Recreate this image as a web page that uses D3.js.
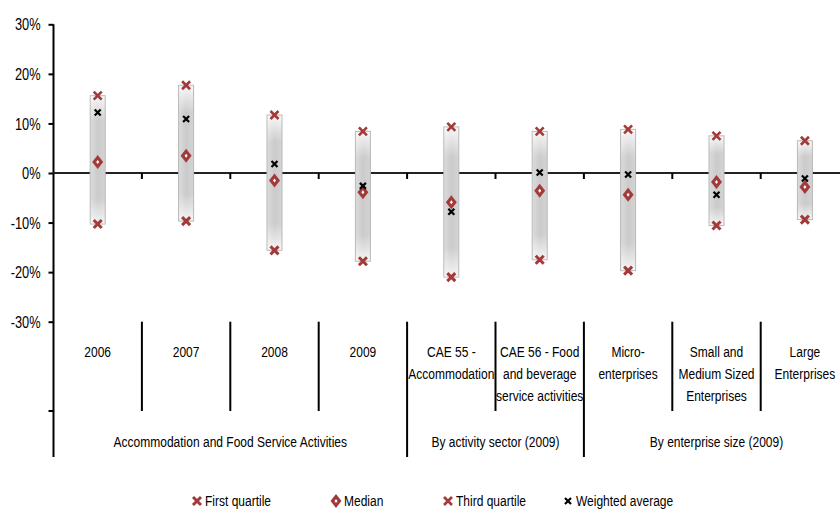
<!DOCTYPE html>
<html>
<head>
<meta charset="utf-8">
<script src="https://cdn.jsdelivr.net/npm/d3@7/dist/d3.min.js"></script>
<style>
  html, body { margin: 0; padding: 0; background: #fff; }
  svg { display: block; }
  text { font-family: "Liberation Sans", Arial, sans-serif; fill: #000; }
</style>
</head>
<body>
<svg id="chart" width="840" height="517"></svg>
<script>
// Category labels (each entry is a list of lines)
const categories = [
  ["2006"],
  ["2007"],
  ["2008"],
  ["2009"],
  ["CAE 55 -", "Accommodation"],
  ["CAE 56 - Food", "and beverage", "service activities"],
  ["Micro-", "enterprises"],
  ["Small and", "Medium Sized", "Enterprises"],
  ["Large", "Enterprises"]
];
// Group labels and how many categories each spans
const groups = ["Accommodation and Food Service Activities", "By activity sector (2009)", "By enterprise size (2009)"];
const groupSizes = [4, 2, 3];

// Values in percent
const firstQuartile   = [-10.3, -9.7, -15.6, -17.8, -21.0, -17.5, -19.7, -10.6, -9.4];
const median          = [2.2, 3.5, -1.5, -3.9, -5.9, -3.6, -4.4, -1.8, -2.8];
const thirdQuartile   = [15.6, 17.7, 11.7, 8.4, 9.3, 8.4, 8.8, 7.5, 6.5];
const weightedAverage = [12.2, 10.9, 1.8, -2.6, -7.8, 0.1, -0.3, -4.4, -1.1];

const yTicks = [-30, -20, -10, 0, 10, 20, 30];
const seriesNames = ["First quartile", "Median", "Third quartile", "Weighted average"];

const RED = "#a33a3a";
const NARROW = 0.8;   // horizontal squeeze giving a condensed face
const svg = d3.select("#chart");

// Condensed text placed at (x, y)
function narrowText(parent, x, y, str, size, anchor) {
  return parent.append("text")
    .attr("transform", `translate(${x},${y}) scale(${NARROW},1)`)
    .attr("text-anchor", anchor || "middle")
    .attr("font-size", size)
    .text(str);
}

const left = 53.5, band = 88.4;
const x = d3.scaleBand()
  .domain(d3.range(categories.length))
  .range([left, left + band * categories.length])
  .paddingInner(0).paddingOuter(0);
const y = d3.scaleLinear().domain([-30, 30]).range([321.7, 24.3]);

const axisBottom = 457;   // lower end of the category axis lines
const catLineEnd = 411;   // lower end of the inner category separators

// Gradient for the inter-quartile boxes
const defs = svg.append("defs");
const grad = defs.append("linearGradient").attr("id", "boxGrad")
  .attr("x1", 0).attr("y1", 0).attr("x2", 0).attr("y2", 1);
[[0, "#f7f7f7"], [0.2, "#cbcbcb"], [0.8, "#cbcbcb"], [1, "#f4f4f4"]]
  .forEach(([o, c]) => grad.append("stop").attr("offset", o).attr("stop-color", c));
const gradH = defs.append("linearGradient").attr("id", "boxGradH")
  .attr("x1", 0).attr("y1", 0).attr("x2", 1).attr("y2", 0);
[[0, "rgba(255,255,255,0.3)"], [0.5, "rgba(255,255,255,0)"], [1, "rgba(255,255,255,0.15)"]]
  .forEach(([o, c]) => gradH.append("stop").attr("offset", o).attr("stop-color", c));

// Y axis
const yAxis = d3.axisLeft(y).tickValues(yTicks).tickSize(5).tickSizeOuter(0)
  .tickFormat(d => d + "%");
const gy = svg.append("g").attr("transform", `translate(${left},0)`).call(yAxis);
gy.select(".domain").remove();
gy.selectAll(".tick line").attr("stroke", "#000").attr("stroke-width", 2);
gy.selectAll(".tick text")
  .attr("x", null).attr("dy", "0.35em")
  .attr("transform", `translate(-13,0) scale(${NARROW},1)`)
  .attr("font-size", 16).attr("fill", "#111")
  .style("font-family", "'Liberation Sans', Arial, sans-serif");
gy.attr("font-family", null).attr("font-size", null);
svg.append("line").attr("x1", left).attr("x2", left).attr("y1", y(30)).attr("y2", axisBottom)
  .attr("stroke", "#000").attr("stroke-width", 2);
// extra tick on the category axis level
svg.append("line").attr("x1", left - 5).attr("x2", left).attr("y1", catLineEnd).attr("y2", catLineEnd)
  .attr("stroke", "#000").attr("stroke-width", 2);

// Zero line with category ticks
svg.append("line").attr("x1", left).attr("x2", 840).attr("y1", y(0)).attr("y2", y(0))
  .attr("stroke", "#222").attr("stroke-width", 2.2);
const bounds = d3.range(1, categories.length + 1).map(i => x(i - 1) + x.bandwidth());
svg.append("g").selectAll("line").data(bounds).join("line")
  .attr("x1", d => d).attr("x2", d => d).attr("y1", y(0)).attr("y2", y(0) + 6)
  .attr("stroke", "#000").attr("stroke-width", 2);

// Category separators below the plot
const groupEnds = d3.cumsum(groupSizes);
svg.append("g").selectAll("line").data(d3.range(1, categories.length)).join("line")
  .attr("x1", i => x(i)).attr("x2", i => x(i))
  .attr("y1", y(-30)).attr("y2", i => groupEnds.includes(i) ? axisBottom : catLineEnd)
  .attr("stroke", "#000").attr("stroke-width", 2);

// Category labels
const catG = svg.append("g");
categories.forEach((lines, i) => {
  const cx = x(i) + x.bandwidth() / 2;
  lines.forEach((ln, k) => narrowText(catG, cx, 357 + k * 22, ln, 15));
});

// Group labels
let start = 0;
groups.forEach((g, gi) => {
  const end = start + groupSizes[gi];
  const cx = (x(start) + x(end - 1) + x.bandwidth()) / 2;
  narrowText(svg, cx, 447, g, 15);
  start = end;
});

// Inter-quartile boxes
const bw = 15;
const boxes = svg.append("g");
categories.forEach((c, i) => {
  const cx = x(i) + x.bandwidth() / 2;
  const top = y(thirdQuartile[i]), bot = y(firstQuartile[i]);
  boxes.append("rect").attr("x", cx - bw / 2).attr("y", top).attr("width", bw).attr("height", bot - top)
    .attr("fill", "url(#boxGrad)").attr("stroke", "#b8b8b8").attr("stroke-width", 1);
  boxes.append("rect").attr("x", cx - bw / 2 + 0.5).attr("y", top + 0.5).attr("width", bw - 1).attr("height", bot - top - 1)
    .attr("fill", "url(#boxGradH)");
});

// Marker shapes
function drawX(g, cx, cy, r, color, w) {
  g.append("path").attr("d", `M${cx - r},${cy - r}L${cx + r},${cy + r}M${cx - r},${cy + r}L${cx + r},${cy - r}`)
    .attr("stroke", color).attr("stroke-width", w).attr("fill", "none");
}
function drawDiamond(g, cx, cy) {
  g.append("path").attr("d", `M${cx},${cy - 7}L${cx + 5.5},${cy}L${cx},${cy + 7}L${cx - 5.5},${cy}Z`)
    .attr("fill", RED);
  g.append("path").attr("d", `M${cx},${cy - 2}L${cx + 1.5},${cy}L${cx},${cy + 2}L${cx - 1.5},${cy}Z`)
    .attr("fill", "#fff");
}
const markers = {
  "First quartile": (g, cx, cy) => drawX(g, cx, cy, 4, RED, 3),
  "Median": (g, cx, cy) => drawDiamond(g, cx, cy),
  "Third quartile": (g, cx, cy) => drawX(g, cx, cy, 4, RED, 2.6),
  "Weighted average": (g, cx, cy) => drawX(g, cx, cy, 3, "#000", 2.2)
};
const seriesData = [firstQuartile, median, thirdQuartile, weightedAverage];

const marks = svg.append("g");
seriesNames.forEach((name, s) => {
  seriesData[s].forEach((v, i) => {
    markers[name](marks, x(i) + x.bandwidth() / 2, y(v));
  });
});

// Legend
const legendX = [197, 336, 448, 568];
const lg = svg.append("g");
seriesNames.forEach((name, s) => {
  markers[name](lg, legendX[s], 501);
  narrowText(lg, legendX[s] + 8, 506, name, 15, "start");
});
</script>
</body>
</html>
